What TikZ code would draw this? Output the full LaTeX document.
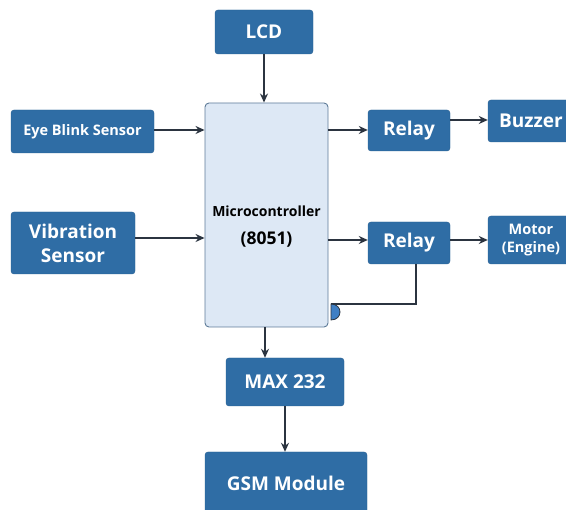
\documentclass[tikz,border=0pt]{standalone}
\usepackage{fontspec}
\setmainfont{Open Sans}
\usetikzlibrary{arrows.meta}
\definecolor{boxblue}{HTML}{2F6DA5}
\definecolor{boxedge}{HTML}{275E91}
\definecolor{mcufill}{HTML}{DDE8F5}
\definecolor{mcuedge}{HTML}{5E7B98}
\definecolor{wire}{HTML}{2B3440}
\definecolor{tabblue}{HTML}{3F7FC4}

\begin{document}
\begin{tikzpicture}[x=1pt, y=-1pt,
    blk/.style={draw=boxedge, fill=boxblue, rounded corners=3pt, text=white,
      font=\bfseries\fontsize{19}{24}\selectfont, align=center, inner sep=0pt},
    small/.style={font=\bfseries\fontsize{14.5}{18.5}\selectfont},
    wired/.style={draw=wire, line width=1.4pt, -{Stealth[length=9pt,width=8pt]}}]
    \useasboundingbox (0,0) rectangle (566,510);

    % blocks
    \node[blk, minimum width=98pt, minimum height=44pt] (lcd) at (264,32) {LCD};
    \node[draw=mcuedge, fill=mcufill, rounded corners=4pt, line width=0.9pt,
      minimum width=123pt, minimum height=224pt] (mcu) at (266.5,215) {};
    \node[font=\bfseries\fontsize{14}{16}\selectfont] (mcuname) at (266.5,211) {Microcontroller};
    \node[font=\bfseries\fontsize{17.5}{20}\selectfont] (mcutype) at (266.5,240) {(8051)};
    \node[blk, small, minimum width=143pt, minimum height=43pt] (eye) at (82.5,131.5) {Eye Blink Sensor};
    \node[blk, minimum width=124pt, minimum height=62pt] (vib) at (73,243) {Vibration\\Sensor};
    \node[blk, minimum width=82pt, minimum height=41pt] (relayA) at (409,130.5) {Relay};
    \node[blk, minimum width=86pt, minimum height=42pt] (buzzer) at (531,121) {Buzzer};
    \node[blk, minimum width=82pt, minimum height=42pt] (relayB) at (409,243) {Relay};
    \node[blk, small, minimum width=86pt, minimum height=48pt] (motor) at (531,240) {Motor\\(Engine)};
    \node[blk, minimum width=118pt, minimum height=48pt] (max) at (285,382) {MAX 232};
    \node[blk, minimum width=162pt, minimum height=62pt] (gsm) at (286,483) {GSM Module};

    % connections
    \draw[wired] (lcd.south) -- (lcd.south |- mcu.north);
    \draw[wired] (eye.east |- 0,130) -- (mcu.west |- 0,130);
    \draw[wired] (vib.east |- 0,238) -- (mcu.west |- 0,238);
    \draw[wired] (mcu.east |- 0,130) -- (relayA.west |- 0,130);
    \draw[wired] (relayA.east |- 0,120) -- (buzzer.west |- 0,120);
    \draw[wired] (mcu.east |- 0,240) -- (relayB.west |- 0,240);
    \draw[wired] (relayB.east |- 0,240) -- (motor.west |- 0,240);
    \draw[wired] (mcu.south -| 265,0) -- (max.north -| 265,0);
    \draw[wired] (max.south) -- (max.south |- gsm.north);

    % feedback to the controller
    \coordinate (tab) at (331,304);
    \draw[draw=wire, line width=1.4pt] ([xshift=7pt]relayB.south) |- (tab);
    \draw[draw=wire, line width=0.8pt, fill=tabblue]
      (tab) .. controls (343,304) and (343,320) .. (331,320) -- cycle;

\end{tikzpicture}
\end{document}
